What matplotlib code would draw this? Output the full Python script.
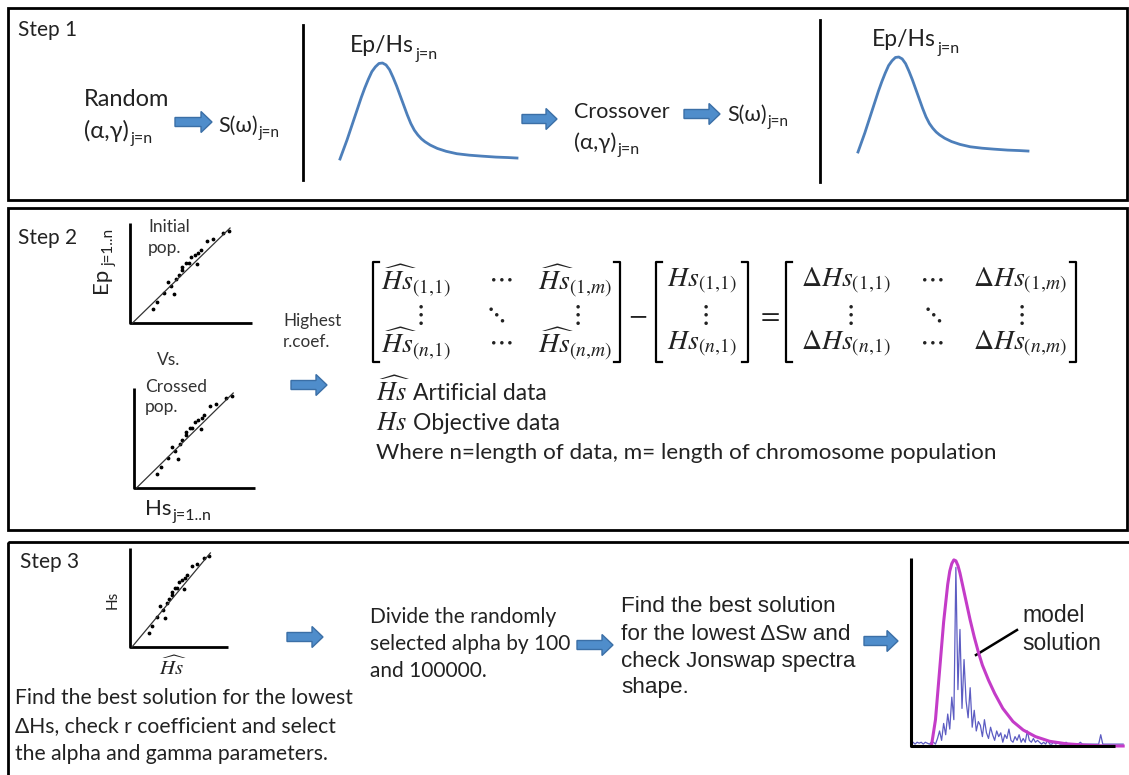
import numpy as np
import matplotlib
matplotlib.use("Agg")
import matplotlib.pyplot as plt
from matplotlib.patches import FancyArrow, Rectangle

plt.rcParams['font.family'] = ['Lato', 'DejaVu Sans']
plt.rcParams['mathtext.fontset'] = 'custom'
plt.rcParams['mathtext.rm'] = 'Lato'
plt.rcParams['mathtext.it'] = 'Lato:italic'
plt.rcParams['mathtext.bf'] = 'Lato:bold'

W, H = 1129, 775

# schematic spectrum (step 1), relative coords
peak_x = [0, 0.02, 0.04, 0.06, 0.08, 0.10, 0.12, 0.14, 0.16, 0.18, 0.20, 0.22, 0.24, 0.26,
          0.28, 0.30, 0.32, 0.34, 0.36, 0.38, 0.40, 0.42, 0.44, 0.46, 0.48, 0.51, 0.55,
          0.60, 0.66, 0.73, 0.80, 0.88, 0.95, 1.0]
peak_y = [0, 0.10, 0.20, 0.31, 0.42, 0.53, 0.64, 0.74, 0.83, 0.91, 0.96, 0.995, 1.0, 0.98,
          0.93, 0.85, 0.76, 0.66, 0.56, 0.46, 0.37, 0.30, 0.25, 0.21, 0.18, 0.145, 0.11,
          0.08, 0.055, 0.04, 0.03, 0.02, 0.015, 0.01]

# scatter of the mini regression plots
sc_x = [0.19, 0.22, 0.28, 0.31, 0.34, 0.36, 0.38, 0.40, 0.43, 0.43, 0.46, 0.48, 0.50, 0.53,
        0.55, 0.56, 0.58, 0.63, 0.68, 0.76, 0.81]
sc_y = [0.14, 0.21, 0.30, 0.41, 0.37, 0.29, 0.44, 0.48, 0.53, 0.56, 0.60, 0.60, 0.66, 0.68,
        0.59, 0.70, 0.73, 0.82, 0.84, 0.90, 0.92]
fit_x = [0.02, 0.82]
fit_y = [0.0, 0.95]

# step 3 spectrum: fitted model and measured spectrum
model_x = [0.10, 0.12, 0.14, 0.16, 0.18, 0.19, 0.20, 0.21, 0.22, 0.23, 0.24, 0.25, 0.27,
           0.29, 0.31, 0.33, 0.35, 0.38, 0.41, 0.45, 0.50, 0.55, 0.61, 0.68, 0.76, 0.85,
           0.95, 1.04]
model_y = [0.0, 0.14, 0.40, 0.66, 0.86, 0.93, 0.97, 0.99, 0.985, 0.96, 0.92, 0.87, 0.77,
           0.67, 0.58, 0.50, 0.43, 0.35, 0.28, 0.20, 0.13, 0.085, 0.05, 0.025, 0.012, 0.005,
           0.0, 0.0]
meas_y = [0.01, 0.02, 0.01, 0.02, 0.015, 0.02, 0.01, 0.02, 0.015, 0.01, 0.02,
          0.02, 0.01, 0.04, 0.08, 0.03, 0.12, 0.06, 0.17, 0.09, 0.26,
          0.14, 0.95, 0.30, 0.62, 0.20, 0.46, 0.24, 0.15, 0.31, 0.10,
          0.19, 0.08, 0.13, 0.11, 0.05, 0.14, 0.07, 0.04, 0.10, 0.06,
          0.03, 0.08, 0.05, 0.07, 0.02, 0.06, 0.04, 0.09, 0.03, 0.02,
          0.05, 0.03, 0.06, 0.02, 0.04, 0.02, 0.08, 0.03, 0.02, 0.04,
          0.02, 0.03, 0.02, 0.01, 0.02, 0.01, 0.03, 0.01, 0.01, 0.02,
          0.01, 0.02, 0.01, 0.01, 0.01, 0.02, 0.01, 0.01, 0.01, 0.01,
          0.01, 0.01, 0.02, 0.01, 0.01, 0.01, 0.01, 0.01, 0.01, 0.01,
          0.01, 0.01, 0.06, 0.01, 0.01, 0.01, 0.01, 0.01, 0.01, 0.01,
          0.01, 0.01, 0.01, 0.01]
meas_x = np.arange(len(meas_y)) * 0.01

ARROW_FC = '#4f8dcb'
ARROW_EC = '#3b6fa6'
CURVE_C = '#4d7fba'
TXT = '#222222'

fig = plt.figure(figsize=(W / 100, H / 100), dpi=100)
ax = fig.add_axes([0, 0, 1, 1])
ax.set_xlim(0, W)
ax.set_ylim(H, 0)
ax.axis('off')


def inset(x0, y0, x1, y1):
    a = fig.add_axes([x0 / W, 1 - y1 / H, (x1 - x0) / W, (y1 - y0) / H])
    a.set_xlim(0, 1)
    a.set_ylim(0, 1)
    a.axis('off')
    a.patch.set_alpha(0)
    return a


def arrow(x0, x1, y):
    ax.add_patch(FancyArrow(x0, y, x1 - x0, 0, width=9, head_width=21, head_length=11,
                            length_includes_head=True, fc=ARROW_FC, ec=ARROW_EC, lw=1))


def mini_scatter(x0, y0, x1, y1):
    a = inset(x0, y0, x1, y1)
    a.plot([0, 0, 1], [1, 0, 0], color='black', lw=2, clip_on=False, solid_capstyle='butt')
    a.plot(fit_x, fit_y, color='#333333', lw=0.9, clip_on=False)
    a.scatter(sc_x, sc_y, s=3, color='black', clip_on=False)
    return a


def bracket(x, top, bot, side):
    d = 6 if side == 'l' else -6
    ax.plot([x + d, x, x, x + d], [top, top, bot, bot], color='black', lw=1.6)


def sub_label(x, y, main, sub, fs, sfs, dy=0.15, **kw):
    t = ax.text(x, y, main, fontsize=fs, va='center', color=TXT, **kw)
    ax.annotate(sub, xy=(1, dy), xycoords=t, xytext=(1, 0), textcoords='offset points',
                fontsize=sfs, va='center', ha='left', color=TXT, **kw)
    return t


# boxes
for (x0, y0, x1, y1) in [(8, 8, 1127, 200), (8, 208, 1127, 530), (8, 542, 1135, 785)]:
    ax.add_patch(Rectangle((x0, y0), x1 - x0, y1 - y0, fill=False, ec='black', lw=2))

# ---------- Step 1
ax.text(18, 30, 'Step 1', fontsize=15, va='center', color=TXT)
ax.text(84, 100, 'Random', fontsize=17, va='center', color=TXT)
sub_label(84, 131, '(α,γ)', 'j=n', 17, 11.5)
arrow(175, 212, 122)
sub_label(218, 126, 'S(ω)', 'j=n', 15.5, 11)
ax.plot([303, 303], [25, 180], color='black', lw=2)
c1 = inset(340, 63, 517, 159)
c1.plot(peak_x, peak_y, color=CURVE_C, lw=2, clip_on=False)
sub_label(350, 46, 'Ep/Hs', 'j=n', 16.5, 11.5, dy=0.05)
arrow(522, 557, 119)
ax.text(574, 112, 'Crossover', fontsize=15.5, va='center', color=TXT)
sub_label(574, 143, '(α,γ)', 'j=n', 16, 11.5)
arrow(684, 720, 114)
sub_label(727, 115, 'S(ω)', 'j=n', 15.5, 11)
ax.plot([820, 820], [20, 182], color='black', lw=2)
c2 = inset(858, 57, 1028, 152)
c2.plot(peak_x, peak_y, color=CURVE_C, lw=2, clip_on=False)
sub_label(872, 40, 'Ep/Hs', 'j=n', 16.5, 11.5, dy=0.05)

# ---------- Step 2
ax.text(18, 238, 'Step 2', fontsize=15, va='center', color=TXT)
mini_scatter(130, 223, 252, 323)
ep = ax.text(101, 280, 'Ep', fontsize=16, rotation=90, ha='center', va='center', color=TXT)
ax.annotate('j=1..n', xy=(0.95, 1), xycoords=ep, xytext=(0, 1), textcoords='offset points',
            fontsize=11, rotation=90, ha='center', va='bottom', color=TXT)
ax.text(148, 227, 'Initial', fontsize=12.5, va='center', color='#333333')
ax.text(148, 248, 'pop.', fontsize=12.5, va='center', color='#333333')
ax.text(157, 360, 'Vs.', fontsize=12.5, va='center', color='#333333')
mini_scatter(134, 388, 255, 488)
ax.text(145, 387, 'Crossed', fontsize=12.5, va='center', color='#333333')
ax.text(145, 407, 'pop.', fontsize=12.5, va='center', color='#333333')
sub_label(145, 509, 'Hs', 'j=1..n', 16, 11.5)
ax.text(283, 321, 'Highest', fontsize=12.3, va='center', color='#333333')
ax.text(283, 342, 'r.coef.', fontsize=12.3, va='center', color='#333333')
arrow(291, 327, 385)

MFS = 20


def mtext(x, y, s, ha='center', fs=MFS):
    ax.text(x, y, s, fontsize=fs, ha=ha, va='center', math_fontfamily='stix', color=TXT)


top, bot = 262, 362
r1, r2, r3 = 281, 314, 344
bracket(373, top, bot, 'l')
mtext(416, r1, r'$\widehat{Hs}_{(1,\!1)}$')
mtext(500, r1 - 4, r'$\cdots$')
mtext(575, r1, r'$\widehat{Hs}_{(1,\!m)}$')
mtext(418, r2, r'$\vdots$')
mtext(494, r2, r'$\ddots$')
mtext(575, r2, r'$\vdots$')
mtext(416, r3, r'$\widehat{Hs}_{(n,\!1)}$')
mtext(500, r3 - 4, r'$\cdots$')
mtext(575, r3, r'$\widehat{Hs}_{(n,\!m)}$')
bracket(620, top, bot, 'r')
mtext(638, r2, r'$-$')
bracket(656, top, bot, 'l')
mtext(702, r1, r'$Hs_{(1,\!1)}$')
mtext(703, r2, r'$\vdots$')
mtext(702, r3, r'$Hs_{(n,\!1)}$')
bracket(748, top, bot, 'r')
mtext(768, r2, r'$=$')
bracket(786, top, bot, 'l')
mtext(846, r1, r'$\Delta Hs_{(1,\!1)}$')
mtext(931, r1 - 4, r'$\cdots$')
mtext(1020, r1, r'$\Delta Hs_{(1,\!m)}$')
mtext(848, r2, r'$\vdots$')
mtext(931, r2, r'$\ddots$')
mtext(1019, r2, r'$\vdots$')
mtext(846, r3, r'$\Delta Hs_{(n,\!1)}$')
mtext(931, r3 - 4, r'$\cdots$')
mtext(1020, r3, r'$\Delta Hs_{(n,\!m)}$')
bracket(1076, top, bot, 'r')

mtext(376, 391, r'$\widehat{Hs}$', ha='left', fs=19)
ax.text(413, 394, 'Artificial data', fontsize=16.5, va='center', color=TXT)
mtext(376, 423, r'$Hs$', ha='left', fs=19)
ax.text(413, 424, 'Objective data', fontsize=16.5, va='center', color=TXT)
ax.text(376, 453, 'Where n=length of data, m= length of chromosome population',
        fontsize=16.2, va='center', color=TXT)

# ---------- Step 3
ax.text(20, 562, 'Step 3', fontsize=15, va='center', color=TXT)
mini_scatter(130, 548, 228, 647)
ax.text(113, 600, 'Hs', fontsize=11, rotation=90, ha='center', va='center', color=TXT)
mtext(173, 667, r'$\widehat{Hs}$', fs=15)
for i, line in enumerate(['Find the best solution for the lowest',
                          'ΔHs, check r coefficient and select',
                          'the alpha and gamma parameters.']):
    ax.text(15, 698 + i * 28, line, fontsize=15.2, va='center', color=TXT)
arrow(287, 323, 637)
for i, line in enumerate(['Divide the randomly', 'selected alpha by 100', 'and 100000.']):
    ax.text(370, 617 + i * 27, line, fontsize=15, va='center', color=TXT)
arrow(577, 613, 645)
for i, line in enumerate(['Find the best solution', 'for the lowest ΔSw and',
                          'check Jonswap spectra', 'shape.']):
    ax.text(621, 607 + i * 27, line, fontsize=16.2, va='center',
            family=['Liberation Sans', 'DejaVu Sans'], color=TXT)
arrow(864, 898, 641)

sp = inset(911, 558, 1115, 746)
sp.plot(meas_x, meas_y, color='#4040b8', lw=0.9, alpha=0.85, clip_on=False)
sp.plot(model_x, model_y, color='#c43cc8', lw=2.2, clip_on=False)
sp.plot([0, 0, 1], [1, 0, 0], color='black', lw=2.2, clip_on=False, solid_capstyle='butt')
ax.plot([976, 1017], [655, 630], color='black', lw=1.8)
ax.text(1022, 615, 'model', fontsize=16.5, va='center', family=['Liberation Sans'], color=TXT)
ax.text(1022, 643, 'solution', fontsize=16.5, va='center', family=['Liberation Sans'], color=TXT)

fig.savefig('out.png', dpi=100)
